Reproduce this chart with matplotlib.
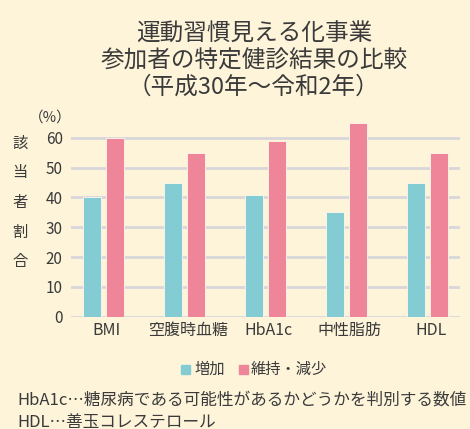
import numpy as np
import matplotlib
matplotlib.use("Agg")
import matplotlib.pyplot as plt
from matplotlib.patches import Rectangle

plt.rcParams['font.family'] = ['Noto Sans CJK JP', 'DejaVu Sans']

# データ
categorias = ["BMI", "空腹時血糖", "HbA1c", "中性脂肪", "HDL"]
aumento = [40, 45, 41, 35, 45]
mantido = [60, 55, 59, 65, 55]
yticks = [0, 10, 20, 30, 40, 50, 60]

titulo = "運動習慣見える化事業\n参加者の特定健診結果の比較\n（平成30年～令和2年）"
nota1 = "HbA1c…糖尿病である可能性があるかどうかを判別する数値"
nota2 = "HDL…善玉コレステロール"

BG = "#FDF4DA"
AZUL = "#83CCD3"
ROSA = "#EE8599"
TXT = "#3A3A3A"

fig = plt.figure(figsize=(4.7, 4.29), dpi=100, facecolor=BG)
ax = fig.add_axes([0.151, 0.2618, 0.828, 0.4515])
ax.set_facecolor(BG)

x = np.arange(len(categorias))
w = 0.222
ax.bar(x - 0.142, aumento, w, color=AZUL, edgecolor="#FFF8EC", linewidth=0.6, zorder=3)
ax.bar(x + 0.142, mantido, w, color=ROSA, edgecolor="#FFF8EC", linewidth=0.6, zorder=3)

ax.set_xlim(-0.4, 4.4)
ax.set_ylim(0, 65)
ax.set_yticks(yticks)
ax.set_yticklabels([str(v) for v in yticks], fontsize=11, color=TXT)
ax.set_xticks(x + 0.04)
ax.set_xticklabels(categorias, fontsize=11.5, color=TXT)
ax.tick_params(length=0, pad=6)
ax.tick_params(axis="x", pad=4)
for v in yticks:
    ax.axhline(v, color="#D9D6DA", linewidth=2, zorder=1)
for s in ax.spines.values():
    s.set_visible(False)

fig.text(0.54, 0.858, titulo, ha="center", va="center", fontsize=17, color=TXT,
         linespacing=1.2)
fig.text(0.107, 0.725, "（%）", ha="center", va="center", fontsize=10.5, color=TXT)
for i, ch in enumerate("該当者割合"):
    fig.text(0.043, 1 - (143 + i * 29.7) / 429, ch, ha="center", va="center",
             fontsize=11, color=TXT)

# legenda
fig.patches.append(Rectangle((181 / 470, 1 - 374 / 429), 9 / 470, 9 / 429,
                             transform=fig.transFigure, color=AZUL))
fig.text(195 / 470, 1 - 369 / 429, "増加", ha="left", va="center", fontsize=11, color=TXT)
fig.patches.append(Rectangle((239 / 470, 1 - 374 / 429), 9 / 470, 9 / 429,
                             transform=fig.transFigure, color=ROSA))
fig.text(251 / 470, 1 - 369 / 429, "維持・減少", ha="left", va="center", fontsize=11, color=TXT)

fig.text(17 / 470, 1 - 400 / 429, nota1, ha="left", va="center", fontsize=12, color=TXT)
fig.text(17 / 470, 1 - 422 / 429, nota2, ha="left", va="center", fontsize=12, color=TXT)

fig.savefig("out.png", dpi=100, facecolor=BG)
